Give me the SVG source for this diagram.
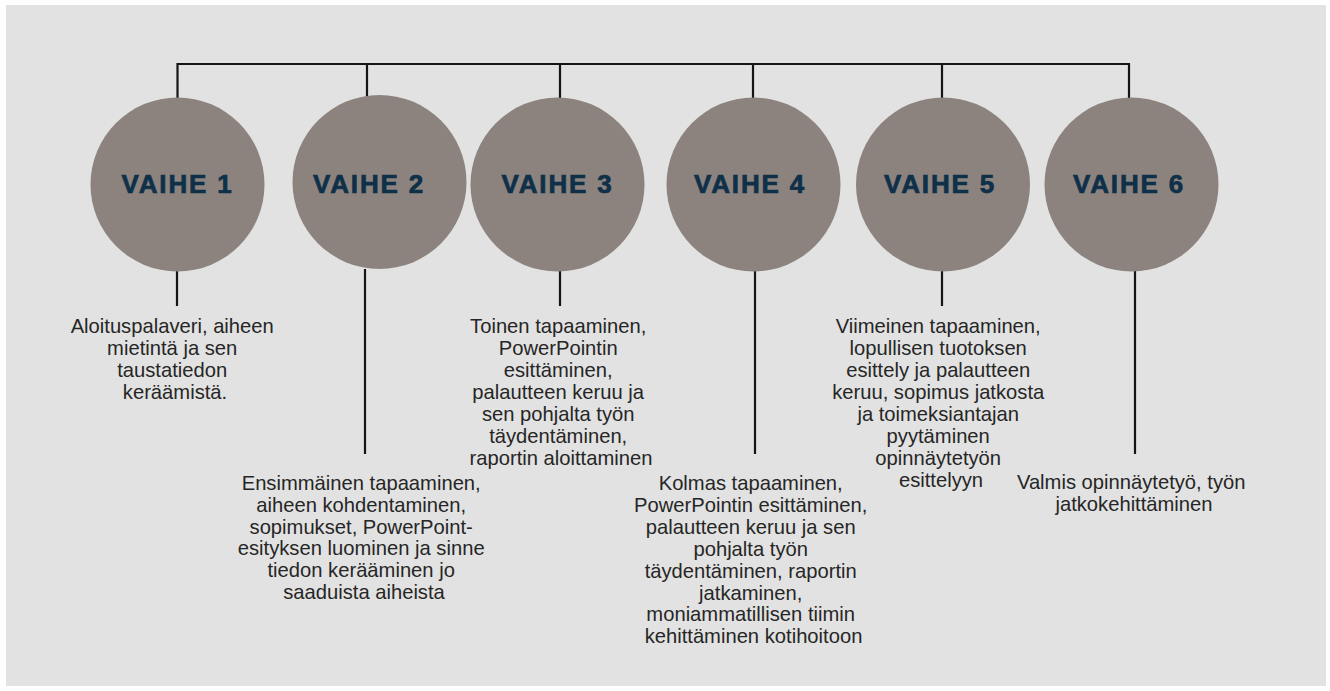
<svg xmlns="http://www.w3.org/2000/svg" width="1330" height="691" viewBox="0 0 1330 691">
  <style>
    .bg { fill: #e2e2e2; }
    .wire { fill: none; stroke: #151515; stroke-width: 2.2; stroke-linecap: square; }
    .disc { fill: #8c837e; }
    .head { font-family: "Liberation Sans", Arial, sans-serif; font-weight: 700; font-size: 26px; letter-spacing: 1.8px; fill: #0f3049; stroke: #0f3049; stroke-width: 0.7; text-anchor: middle; }
    .body { font-family: "Liberation Sans", Arial, sans-serif; font-size: 20.2px; fill: #262626; text-anchor: middle; }
  </style>

  <rect width="1330" height="691" fill="#ffffff"/>
  <rect class="bg" x="6" y="5" width="1320" height="681"/>

  <!-- connectors: top rail, drops into each circle, and stems down to the descriptions -->
  <g id="connectors">
    <path class="wire" d="M177.5,97 V64 H1129 V97 M367,64 V97 M560,64 V97 M753,64 V97 M942,64 V97"/>
    <path class="wire" d="M177,272 V305 M365,270 V453 M560,271 V305 M755,271 V453 M942,272 V305 M1135,272 V453"/>
  </g>

  <g id="vaihe-1">
    <circle class="disc" cx="177.5" cy="184.5" r="87"/>
    <text class="head" x="177.5" y="193">VAIHE 1</text>
    <text class="body" x="175" y="333">
      <tspan x="175">Aloituspalaveri, aiheen</tspan>
      <tspan x="175" dy="22">mietintä ja sen</tspan>
      <tspan x="175" dy="22">taustatiedon</tspan>
      <tspan x="175" dy="22">keräämistä.</tspan>
    </text>
  </g>

  <g id="vaihe-2">
    <circle class="disc" cx="379.5" cy="182" r="87"/>
    <text class="head" x="369" y="193">VAIHE 2</text>
    <text class="body" x="364" y="490">
      <tspan x="364">Ensimmäinen tapaaminen,</tspan>
      <tspan x="364" dy="21.8">aiheen kohdentaminen,</tspan>
      <tspan x="364" dy="21.8">sopimukset, PowerPoint-</tspan>
      <tspan x="364" dy="21.8">esityksen luominen ja sinne</tspan>
      <tspan x="364" dy="21.8">tiedon kerääminen jo</tspan>
      <tspan x="364" dy="21.8">saaduista aiheista</tspan>
    </text>
  </g>

  <g id="vaihe-3">
    <circle class="disc" cx="557.5" cy="184.5" r="87"/>
    <text class="head" x="557.5" y="193">VAIHE 3</text>
    <text class="body" x="561" y="333">
      <tspan x="561">Toinen tapaaminen,</tspan>
      <tspan x="561" dy="22">PowerPointin</tspan>
      <tspan x="561" dy="22">esittäminen,</tspan>
      <tspan x="561" dy="22">palautteen keruu ja</tspan>
      <tspan x="561" dy="22">sen pohjalta työn</tspan>
      <tspan x="561" dy="22">täydentäminen,</tspan>
      <tspan x="561" dy="22">raportin aloittaminen</tspan>
    </text>
  </g>

  <g id="vaihe-4">
    <circle class="disc" cx="753.5" cy="184.5" r="87"/>
    <text class="head" x="750" y="193">VAIHE 4</text>
    <text class="body" x="753.5" y="490">
      <tspan x="753.5">Kolmas tapaaminen,</tspan>
      <tspan x="753.5" dy="21.9">PowerPointin esittäminen,</tspan>
      <tspan x="753.5" dy="21.9">palautteen keruu ja sen</tspan>
      <tspan x="753.5" dy="21.9">pohjalta työn</tspan>
      <tspan x="753.5" dy="21.9">täydentäminen, raportin</tspan>
      <tspan x="753.5" dy="21.9">jatkaminen,</tspan>
      <tspan x="753.5" dy="21.9">moniammatillisen tiimin</tspan>
      <tspan x="753.5" dy="21.9">kehittäminen kotihoitoon</tspan>
    </text>
  </g>

  <g id="vaihe-5">
    <circle class="disc" cx="943" cy="184.5" r="87"/>
    <text class="head" x="940" y="193">VAIHE 5</text>
    <text class="body" x="941" y="333">
      <tspan x="941">Viimeinen tapaaminen,</tspan>
      <tspan x="941" dy="22">lopullisen tuotoksen</tspan>
      <tspan x="941" dy="22">esittely ja palautteen</tspan>
      <tspan x="941" dy="22">keruu, sopimus jatkosta</tspan>
      <tspan x="941" dy="22">ja toimeksiantajan</tspan>
      <tspan x="941" dy="22">pyytäminen</tspan>
      <tspan x="941" dy="22">opinnäytetyön</tspan>
      <tspan x="941" dy="22">esittelyyn</tspan>
    </text>
  </g>

  <g id="vaihe-6">
    <circle class="disc" cx="1131.5" cy="184.5" r="87"/>
    <text class="head" x="1129" y="193">VAIHE 6</text>
    <text class="body" x="1134" y="489">
      <tspan x="1134">Valmis opinnäytetyö, työn</tspan>
      <tspan x="1134" dy="22">jatkokehittäminen</tspan>
    </text>
  </g>
</svg>
